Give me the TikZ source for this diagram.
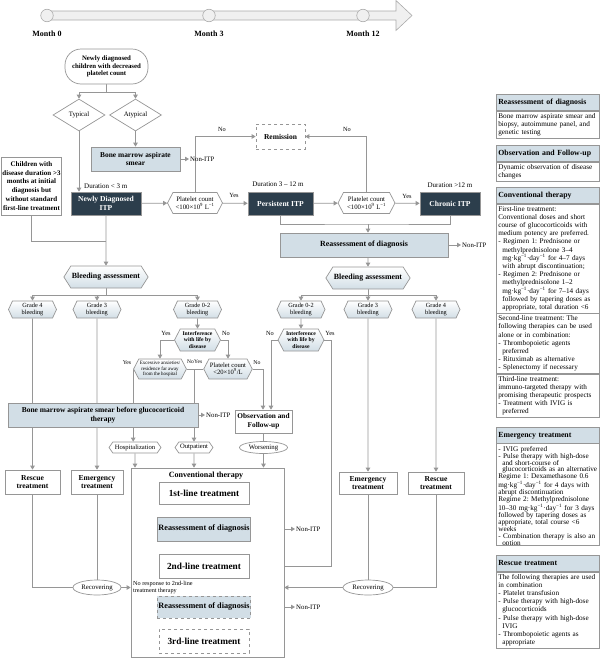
\documentclass[tikz,border=0pt]{standalone}
\usepackage{fontspec}
\setmainfont{Liberation Serif}
\usetikzlibrary{arrows.meta,positioning,shapes.geometric,shapes.symbols}
\definecolor{itpdark}{RGB}{44,62,76}
\definecolor{itplight}{RGB}{210,222,230}
\definecolor{itpgray}{RGB}{150,150,150}
\definecolor{itpbar}{RGB}{240,240,240}
\pgfdeclarelayer{bg}
\pgfsetlayers{bg,main}
\frenchspacing
\begin{document}
\begin{tikzpicture}[x=1pt, y=-1pt,
  box/.style={draw=itpgray, line width=0.7pt, fill=white, align=center, inner sep=1pt},
  darkbox/.style={box, fill=itpdark, text=white, font=\fontsize{7.6}{8.6}\selectfont\bfseries, minimum height=23pt},
  bluebox/.style={box, fill=itplight, font=\fontsize{7.4}{8.6}\selectfont\bfseries},
  hexbox/.style={box, signal, signal to=east and west, signal pointer angle=125, font=\fontsize{6.8}{7.6}\selectfont},
  hexshade/.style={hexbox, top color=white, bottom color=itplight},
  grade/.style={hexshade, minimum width=48pt, minimum height=17pt, signal pointer angle=130, font=\fontsize{6.3}{7}\selectfont},
  treat/.style={box, minimum height=24pt, font=\fontsize{7.6}{8.8}\selectfont\bfseries},
  oval/.style={box, ellipse, font=\fontsize{6.8}{7.6}\selectfont, inner sep=0pt},
  lab/.style={font=\fontsize{6.3}{7}\selectfont, inner sep=1pt},
  arr/.style={draw=itpgray, line width=0.8pt, -{Triangle[width=4.5pt,length=4pt]}},
  ln/.style={draw=itpgray, line width=0.8pt},
  hdr/.style={draw=itpgray, line width=0.7pt, fill=itplight, anchor=north west, text width=99pt, inner sep=2pt, minimum height=16pt, align=left, font=\fontsize{7.8}{9}\selectfont\bfseries},
  body/.style={draw=itpgray, line width=0.7pt, text width=99pt, inner sep=2pt, align=left, font=\fontsize{7.2}{8.2}\selectfont, below=0pt of #1}
]
\useasboundingbox (0,0) rectangle (600,659);

%% Timeline
\draw[draw=itpgray!80, fill=itpbar, line width=0.6pt] (47,11) -- (396,11) -- (396,0.5) -- (412,15.5) -- (396,30.5) -- (396,20) -- (47,20) -- cycle;
\foreach \mx/\mn in {47/0, 209/3, 363/12}{
  \node[circle, draw=itpgray!80, fill=itpbar, line width=0.6pt, minimum size=12.5pt, inner sep=0pt] (m\mn) at (\mx,15.5) {};
  \node[font=\fontsize{8}{9}\selectfont\bfseries] (mlab\mn) at (\mx,33.5) {Month \mn};
}

%% Diagnosis
\node[box, rounded corners=16pt, minimum width=83pt, minimum height=35pt, font=\fontsize{6.8}{7.8}\selectfont\bfseries] (start) at (106.5,66.5) {Newly diagnosed\\children with decreased\\platelet count};
\node[box, diamond, minimum width=52pt, minimum height=32pt, inner sep=0pt, font=\fontsize{6.8}{7.8}\selectfont] (typ) at (79,115) {Typical};
\node[box, diamond, minimum width=52pt, minimum height=32pt, inner sep=0pt, font=\fontsize{6.8}{7.8}\selectfont] (atyp) at (135.5,115) {Atypical};
\node[bluebox, minimum width=89pt, minimum height=24pt] (bm1) at (135.5,159) {Bone marrow aspirate\\smear};
\node[lab, anchor=west, font=\fontsize{6.8}{7.6}\selectfont] (nonitp1) at (189,159) {Non-ITP};
\node[box, minimum width=57pt, minimum height=58pt, font=\fontsize{7}{8.8}\selectfont\bfseries] (child) at (31.5,186) {Children with\\disease duration >3\\months at initial\\diagnosis but\\without standard\\first-line treatment};

%% Disease phases
\node[darkbox, minimum width=70pt] (newitp) at (106,203.5) {Newly Diagnosed\\ITP};
\node[hexbox, minimum width=55pt, minimum height=21pt] (plt1) at (195,203) {Platelet count\\<100×10\textsuperscript{9} L\textsuperscript{−1}};
\node[box, dashed, minimum width=49pt, minimum height=25pt, font=\fontsize{7.5}{8.5}\selectfont\bfseries] (remission) at (280.5,136.5) {Remission};
\node[darkbox, minimum width=65pt] (persist) at (280.5,203.5) {Persistent ITP};
\node[hexbox, minimum width=57pt, minimum height=21pt] (plt2) at (366.5,203) {Platelet count\\<100×10\textsuperscript{9} L\textsuperscript{−1}};
\node[darkbox, minimum width=60pt] (chronic) at (450,203.5) {Chronic ITP};
\node[lab, anchor=west, font=\fontsize{7}{8}\selectfont] (dur1) at (83,186) {Duration < 3 m};
\node[lab, font=\fontsize{7}{8}\selectfont] (dur2) at (278,184) {Duration 3 – 12 m};
\node[lab, font=\fontsize{7}{8}\selectfont] (dur3) at (450,185) {Duration >12 m};
\node[lab] (yes1) at (234,195) {Yes};
\node[lab] (yes2) at (407,196) {Yes};
\node[lab] (no1) at (222,129) {No};
\node[lab] (no2) at (347,129) {No};
\node[bluebox, minimum width=168pt, minimum height=24pt, font=\fontsize{7.9}{9}\selectfont\bfseries] (reas1) at (364,245) {Reassessment of diagnosis};
\node[lab, anchor=west, font=\fontsize{6.8}{7.6}\selectfont] (nonitp2) at (461,245) {Non-ITP};

%% Bleeding assessment
\node[hexshade, signal pointer angle=115, minimum width=81pt, minimum height=22pt, font=\fontsize{7.9}{9}\selectfont\bfseries] (bleed1) at (106,277) {Bleeding assessment};
\node[hexshade, signal pointer angle=115, minimum width=80pt, minimum height=22pt, font=\fontsize{7.9}{9}\selectfont\bfseries] (bleed2) at (368,278) {Bleeding assessment};
\node[grade] (g4a) at (32.5,309.5) {Grade 4\\bleeding};
\node[grade] (g3a) at (97,309.5) {Grade 3\\bleeding};
\node[grade] (g02a) at (197.5,309.5) {Grade 0-2\\bleeding};
\node[grade] (g02b) at (301,309.5) {Grade 0-2\\bleeding};
\node[grade] (g3b) at (368,309.5) {Grade 3\\bleeding};
\node[grade] (g4b) at (436,309.5) {Grade 4\\bleeding};

\node[hexshade, minimum width=46pt, minimum height=22pt, font=\fontsize{5.7}{6.3}\selectfont\bfseries] (inter1) at (197.5,340) {Interference\\with life by\\disease};
\node[hexshade, minimum width=46pt, minimum height=22pt, font=\fontsize{5.7}{6.3}\selectfont\bfseries] (inter2) at (301,340) {Interference\\with life by\\disease};
\node[lab] (yes3) at (166,333) {Yes};
\node[lab] (no3) at (226,333) {No};
\node[lab] (no4) at (270,333) {No};
\node[lab] (yes4) at (330,333) {Yes};
\node[hexshade, minimum width=50pt, minimum height=20pt, font=\fontsize{5}{5.6}\selectfont] (anx) at (160,369) {Excessive anxieties/\\residence far away\\from the hospital};
\node[hexshade, minimum width=48pt, minimum height=20pt, font=\fontsize{6.6}{7.4}\selectfont] (plt3) at (228,369) {Platelet count\\<20×10\textsuperscript{9}/L};
\node[lab, font=\fontsize{5.8}{6.5}\selectfont] (yes5) at (127,363) {Yes};
\node[lab, font=\fontsize{5.5}{6.5}\selectfont, anchor=east, inner sep=0pt] (no5) at (194,362) {No};
\node[lab, font=\fontsize{5.5}{6.5}\selectfont, anchor=west, inner sep=0pt] (yes6) at (194,362) {Yes};
\node[lab, font=\fontsize{5.8}{6.5}\selectfont] (no6) at (257,363) {No};
\coordinate (oj) at (194,369);

\node[bluebox, minimum width=190pt, minimum height=24pt, font=\fontsize{7.5}{8.6}\selectfont\bfseries] (bm2) at (103,415) {Bone marrow aspirate smear before glucocorticoid\\therapy};
\node[lab, anchor=west, font=\fontsize{6.8}{7.6}\selectfont] (nonitp3) at (205,415) {Non-ITP};
\node[treat, minimum width=57pt, minimum height=23pt, font=\fontsize{7.3}{8.6}\selectfont\bfseries] (obs) at (263.5,421.5) {Observation and\\Follow-up};
\node[hexbox, signal pointer angle=110, minimum width=52pt, minimum height=11pt, font=\fontsize{6.6}{7.4}\selectfont] (hosp) at (135,447.5) {Hospitalization};
\node[hexbox, signal pointer angle=110, minimum width=38pt, minimum height=11pt, font=\fontsize{6.6}{7.4}\selectfont] (outp) at (194,447.5) {Outpatient};
\node[oval, minimum width=48pt, minimum height=12pt] (wors) at (263.5,447.5) {Worsening};

%% Treatment
\node[box, minimum width=153pt, minimum height=189pt] (conv) at (207.5,562.5) {};
\node[font=\fontsize{8}{9}\selectfont\bfseries] (convtitle) at (206,476) {Conventional therapy};
\node[box, minimum width=90pt, minimum height=22pt, font=\fontsize{9.3}{10.3}\selectfont\bfseries] (line1) at (204,493) {1st-line treatment};
\node[bluebox, minimum width=90pt, minimum height=24pt, font=\fontsize{8.2}{9.2}\selectfont\bfseries] (reas2) at (204,529) {Reassessment of diagnosis};
\node[box, minimum width=90pt, minimum height=24pt, font=\fontsize{9.3}{10.3}\selectfont\bfseries] (line2) at (204,566) {2nd-line treatment};
\node[bluebox, dashed, minimum width=90pt, minimum height=22pt, font=\fontsize{8.2}{9.2}\selectfont\bfseries] (reas3) at (204,607) {Reassessment of diagnosis};
\node[box, dashed, minimum width=90pt, minimum height=24pt, font=\fontsize{9.3}{10.3}\selectfont\bfseries] (line3) at (204,641) {3rd-line treatment};
\node[lab, anchor=west, font=\fontsize{6.8}{7.6}\selectfont] (nonitp4) at (295,529) {Non-ITP};
\node[lab, anchor=west, font=\fontsize{6.8}{7.6}\selectfont] (nonitp5) at (295,607) {Non-ITP};
\node[lab, anchor=west, align=left, font=\fontsize{6.2}{6.6}\selectfont] (noresp) at (132,587.5) {No response to 2nd-line\\treatment therapy};
\node[treat, minimum width=55pt] (resc1) at (32.5,482) {Rescue\\treatment};
\node[treat, minimum width=52pt] (emer1) at (97,482) {Emergency\\treatment};
\node[oval, minimum width=48pt, minimum height=15pt] (recov1) at (97,587.5) {Recovering};
\node[treat, minimum width=58pt, minimum height=22pt] (emer2) at (368,483) {Emergency\\treatment};
\node[treat, minimum width=56pt, minimum height=22pt] (resc2) at (436,483) {Rescue\\treatment};
\node[oval, minimum width=50pt, minimum height=15pt] (recov2) at (368,587.5) {Recovering};
\coordinate (sj) at (106.5,92);
\coordinate (cj) at (106,241);
\coordinate (rj) at (368,224);
\coordinate (bj1) at (106,295);
\coordinate (bj2) at (368,295);
\coordinate (yj) at (331,566);

%% Connectors
\begin{pgfonlayer}{bg}
\draw[ln] (start) -- (sj);
\draw[arr] (sj) -| (typ);
\draw[arr] (sj) -| (atyp);
\draw[arr] (typ) -- (typ |- newitp.north);
\draw[arr] (atyp) -- (bm1);
\draw[arr] (bm1) -- (nonitp1);
\draw[ln] (child) |- (cj);
\draw[arr] (newitp) -- (bleed1);
\draw[arr] (newitp) -- (plt1);
\draw[arr] (plt1) -- (persist);
\draw[arr] (persist) -- (plt2);
\draw[arr] (plt2) -- (chronic);
\draw[arr] (plt1.north) |- (remission);
\draw[arr] (plt2.north) |- (remission);
\draw[ln] (persist) |- (rj) -| (chronic);
\draw[arr] (rj) -- (rj |- reas1.north);
\draw[arr] (reas1) -- (nonitp2);
\draw[arr] (bleed2 |- reas1.south) -- (bleed2);
\draw[ln] (bleed1) -- (bj1);
\draw[ln] (bleed2) -- (bj2);
\foreach \g in {g4a,g3a,g02a} \draw[arr] (bj1) -| (\g);
\foreach \g in {g02b,g3b,g4b} \draw[arr] (bj2) -| (\g);
\draw[arr] (g4a) -- (resc1);
\draw[arr] (g3a) -- (emer1);
\draw[arr] (g02a) -- (inter1);
\draw[arr] (g02b) -- (inter2);
\draw[arr] (g3b) -- (emer2);
\draw[arr] (g4b) -- (resc2);
\draw[arr] (inter1.west) -| (anx.north);
\draw[arr] (inter1.east) -| (plt3.north);
\draw[ln] (anx.east) -- (oj);
\draw[ln] (plt3.west) -- (oj);
\draw[arr] (oj) -- (oj |- outp.north);
\draw[arr] (anx.west) -- (anx.west |- hosp.north);
\draw[arr] (plt3.east) -| ([xshift=-0.5pt]obs.north);
\draw[arr] (inter2.west) -| ([xshift=7.5pt]obs.north);
\draw[arr] (inter2.east) -| (yj) -- (line2);
\draw[arr] (bm2) -- (nonitp3);
\draw[arr] (hosp) -- (hosp |- conv.north);
\draw[arr] (outp) -- (outp |- conv.north);
\draw[ln] (obs) -- (wors);
\draw[arr] (wors) -- (wors |- conv.north);
\draw[arr] (line1) -- (reas2);
\draw[arr] (reas2) -- (line2);
\draw[arr] (line2) -- (reas3);
\draw[arr] (reas3) -- (line3);
\draw[arr] (reas2) -- (nonitp4);
\draw[arr] (reas3) -- (nonitp5);
\draw[ln] (resc1) |- (recov1);
\draw[ln] (emer1) -- (recov1);
\draw[arr] (recov1) -- (recov1 -| conv.west);
\draw[ln] (emer2) -- (recov2);
\draw[ln] (resc2) |- (recov2);
\draw[arr] (recov2) -- (recov2 -| conv.east);
\end{pgfonlayer}

%% Side panel
\node[hdr] (ph1) at (496,94) {Reassessment of diagnosis};
\node[body=ph1] (pb1) {Bone marrow aspirate smear and\\biopsy, autoimmune panel, and\\genetic testing};
\node[hdr] (ph2) at (496,145) {Observation and Follow-up};
\node[body=ph2] (pb2) {\makebox[99pt][s]{Dynamic observation of disease}\\changes};
\node[hdr] (ph3) at (496,187) {Conventional therapy};
\node[body=ph3] (pb3a) {First-line treatment:\\Conventional doses and short\\course of glucocorticoids with\\medium potency are preferred.\\- Regimen 1: Prednisone or\\\hspace*{4pt}methylprednisolone 3–4\\\hspace*{4pt}mg·kg\textsuperscript{−1}·day\textsuperscript{−1} for 4–7 days\\\hspace*{4pt}with abrupt discontinuation;\\- Regimen 2: Prednisone or\\\hspace*{4pt}methylprednisolone 1–2\\\hspace*{4pt}mg·kg\textsuperscript{−1}·day\textsuperscript{−1} for 7–14 days\\\hspace*{4pt}followed by tapering doses as\\\hspace*{4pt}appropriate, total duration <6};
\node[body=pb3a] (pb3b) {Second-line treatment: The\\following therapies can be used\\alone or in combination:\\- Thrombopoietic agents\\\hspace*{4pt}preferred\\- Rituximab as alternative\\- Splenectomy if necessary};
\node[body=pb3b] (pb3c) {\makebox[99pt][s]{Third-line treatment:}\\\makebox[99pt][s]{immuno-targeted therapy with}\\promising therapeutic prospects\\- Treatment with IVIG is\\\hspace*{4pt}preferred};
\node[hdr] (ph4) at (496,427) {Emergency treatment};
\begin{scope}
  \clip (494,440) rectangle (601,545);
  \node[body=ph4, draw=none, font=\fontsize{7.2}{6.95}\selectfont] (pb4) {- IVIG preferred\\\makebox[99pt][s]{- Pulse therapy with high-dose}\\\hspace*{4pt}\makebox[95pt][s]{and short-course of}\\\hspace*{4pt}glucocorticoids as an alternative\\\makebox[99pt][s]{Regime 1: Dexamethasone 0.6}\\\makebox[99pt][s]{mg·kg\textsuperscript{−1}·day\textsuperscript{−1} for 4 days with}\\abrupt discontinuation\\Regime 2: Methylprednisolone\\10–30 mg·kg\textsuperscript{−1}·day\textsuperscript{−1} for 3 days\\followed by tapering doses as\\appropriate, total course <6\\weeks\\- Combination therapy is also an\\\hspace*{4pt}option};
\end{scope}
\draw[itpgray, line width=0.7pt] (ph4.south west) rectangle (ph4.south east |- 0,545);
\node[hdr] (ph5) at (496,555) {Rescue treatment};
\node[body=ph5] (pb5) {The following therapies are used\\in combination\\- Platelet transfusion\\- Pulse therapy with high-dose\\\hspace*{4pt}glucocorticoids\\- Pulse therapy with high-dose\\\hspace*{4pt}IVIG\\- Thrombopoietic agents as\\\hspace*{4pt}appropriate};
\end{tikzpicture}
\end{document}
